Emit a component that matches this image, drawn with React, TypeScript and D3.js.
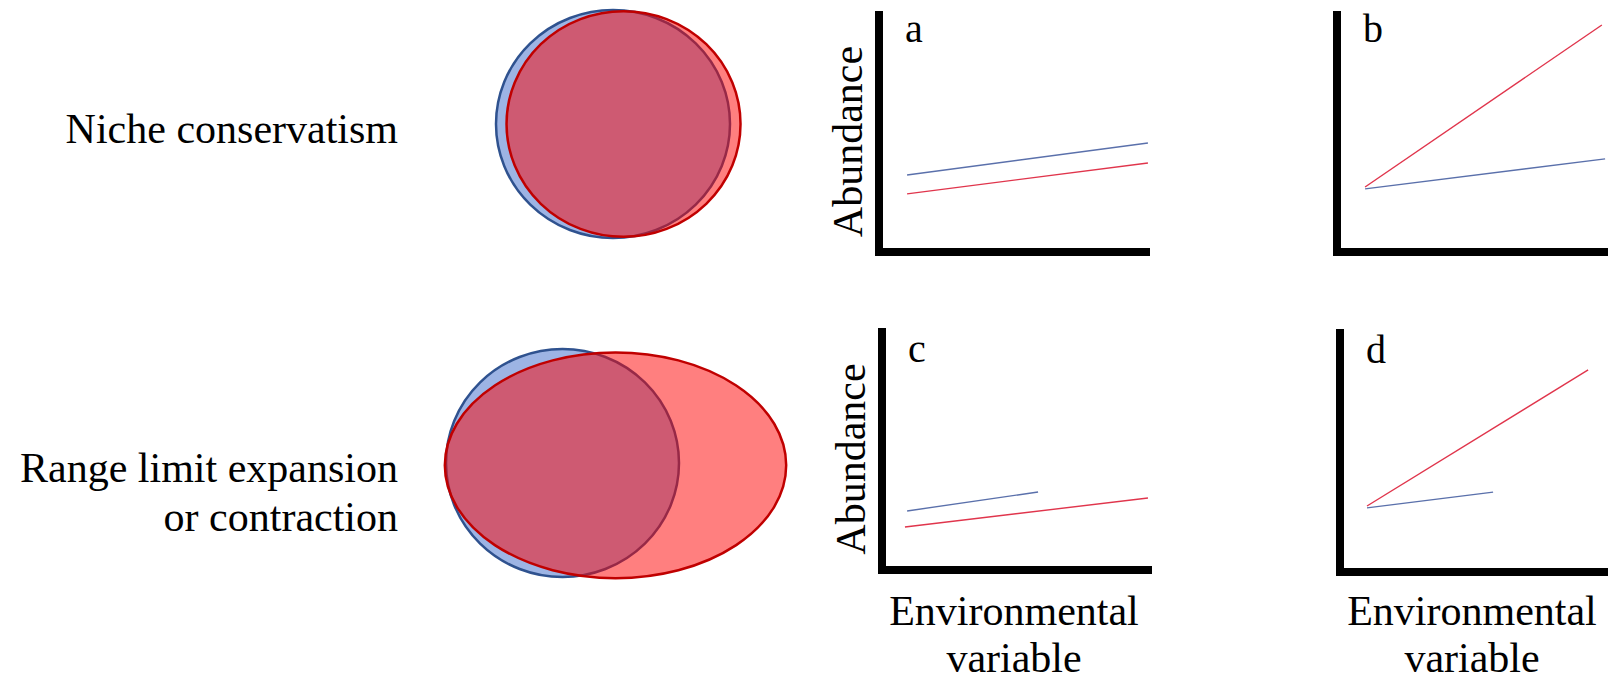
import React from "react";
import * as d3 from "d3";

// ---------- data ----------
const rowLabels = [["Niche conservatism"], ["Range limit expansion", "or contraction"]];
const panelLetters = ["a", "b", "c", "d"];
const yAxisTitle = "Abundance";
const xAxisTitle = ["Environmental", "variable"];

// niche extents in niche units: [xmin, xmax, ymin, ymax]
const nicheBlue = [
  [-1, 1, -1, 1],
  [-1, 1, -1, 1],
];
const nicheRed = [
  [-0.91, 1.09, -0.99, 0.99],
  [-1.01, 1.92, -1.01, 0.97],
];

// abundance lines per panel: [[x0, y0], [x1, y1]] (x and y in 0..10 units)
const blueLines = [
  [[1.04, 3.21], [9.96, 4.54]],
  [[1.04, 2.63], [9.93, 3.88]],
  [[0.93, 2.46], [5.78, 3.25]],
  [[1.0, 2.67], [5.67, 3.33]],
];
const redLines = [
  [[1.04, 2.42], [9.96, 3.71]],
  [[1.04, 2.71], [9.81, 9.46]],
  [[0.85, 1.79], [9.85, 3.0]],
  [[1.0, 2.75], [9.19, 8.42]],
];

// ---------- layout ----------
const W = 1608;
const H = 681;
const FONT = '"Liberation Serif", "Times New Roman", "DejaVu Serif", serif';

const nicheBoxes = [
  { x: [496, 730], y: [238, 10] },
  { x: [446, 679], y: [577, 349] },
];

const panels = [
  { ox: 879, oy: 252, top: 11, right: 1150 },
  { ox: 1337, oy: 252, top: 11, right: 1612 },
  { ox: 882, oy: 570, top: 328, right: 1152 },
  { ox: 1340, oy: 572, top: 329, right: 1612 },
];

const textStyle = { fontFamily: FONT };

export default function App() {
  const line = d3.line();
  return (
    <svg
      width={W}
      height={H}
      viewBox={`0 0 ${W} ${H}`}
      style={{ position: "absolute", left: 0, top: 0, background: "#fff", fontFamily: FONT }}
    >
      {/* row labels */}
      {rowLabels.map((lines, r) => {
        const baseY = r === 0 ? 143 : 482;
        return (
          <text key={r} x={398} y={baseY} textAnchor="end" style={textStyle} fontSize={42} fill="#000">
            {lines.map((t, i) => (
              <tspan key={i} x={398} y={baseY + i * 49}>
                {t}
              </tspan>
            ))}
          </text>
        );
      })}

      {/* niche ellipses */}
      {nicheBoxes.map((box, r) => {
        const sx = d3.scaleLinear().domain([-1, 1]).range(box.x);
        const sy = d3.scaleLinear().domain([-1, 1]).range(box.y);
        const ell = (e: number[]) => ({
          cx: (sx(e[0]) + sx(e[1])) / 2,
          cy: (sy(e[2]) + sy(e[3])) / 2,
          rx: Math.abs(sx(e[1]) - sx(e[0])) / 2,
          ry: Math.abs(sy(e[3]) - sy(e[2])) / 2,
        });
        const be = ell(nicheBlue[r]);
        const re = ell(nicheRed[r]);
        return (
          <g key={r}>
            <ellipse {...be} fill="#9db4e4" stroke="#2f528f" strokeWidth={2.5} />
            <ellipse {...re} fill="rgba(255,0,0,0.5)" stroke="#c00000" strokeWidth={2.5} />
          </g>
        );
      })}

      {/* panels */}
      {panels.map((p, i) => {
        const x = d3.scaleLinear().domain([0, 10]).range([p.ox, p.ox + 270]);
        const y = d3.scaleLinear().domain([0, 10]).range([p.oy, p.oy - 240]);
        const toPx = (pts: number[][]) =>
          line(pts.map((d) => [x(d[0]), y(d[1])] as [number, number])) || "";
        return (
          <g key={i}>
            <path
              d={`M${p.ox},${p.top}V${p.oy}H${p.right}`}
              fill="none"
              stroke="#000"
              strokeWidth={8}
              strokeLinejoin="miter"
            />
            <text
              x={p.ox + 26}
              y={i < 2 ? p.top + 31 : p.top + 34}
              style={textStyle}
              fontSize={40}
              fill="#000"
            >
              {panelLetters[i]}
            </text>
            <path d={toPx(redLines[i])} fill="none" stroke="#e0354c" strokeWidth={1.4} />
            <path d={toPx(blueLines[i])} fill="none" stroke="#5a70ab" strokeWidth={1.4} />
            {i % 2 === 0 && (
              <text
                transform={`translate(${p.ox - 17},${(p.top + p.oy) / 2 + 10}) rotate(-90)`}
                textAnchor="middle"
                style={textStyle}
                fontSize={42}
                fill="#000"
              >
                {yAxisTitle}
              </text>
            )}
            {i >= 2 &&
              xAxisTitle.map((t, k) => (
                <text
                  key={k}
                  x={p.ox + 132}
                  y={625 + k * 47}
                  textAnchor="middle"
                  style={textStyle}
                  fontSize={42}
                  fill="#000"
                >
                  {t}
                </text>
              ))}
          </g>
        );
      })}
    </svg>
  );
}
